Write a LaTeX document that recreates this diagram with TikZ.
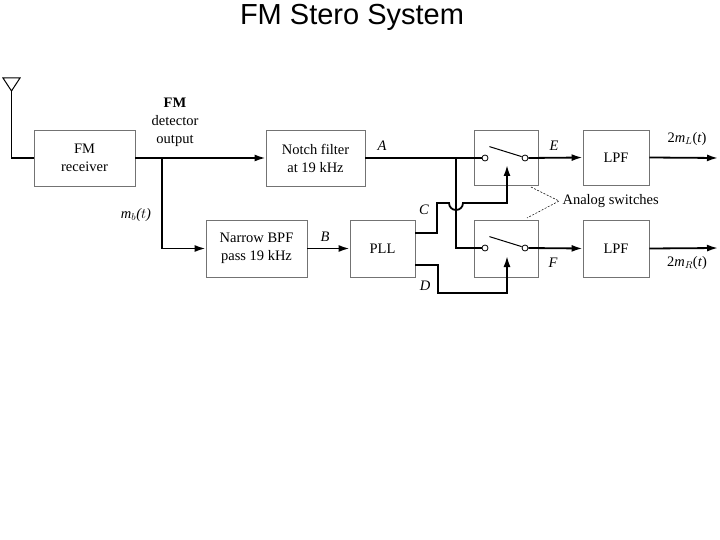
\documentclass[tikz,border=0pt]{standalone}
\usepackage{fontspec}
\setmainfont{Liberation Serif}
\newfontfamily\titlefont{Liberation Sans}
\usetikzlibrary{arrows.meta}
\begin{document}
\begin{tikzpicture}[x=1pt,y=-1pt,
 fs/.style={font=\fontsize{14.5}{18}\selectfont},
 blk/.style={draw=black!55,line width=0.9pt,fs,align=center,inner sep=0pt},
 sig/.style={line width=1.8pt},
 arr/.style={sig,-{Latex[length=11pt,width=7pt]}},
 lab/.style={font=\fontsize{14.5}{18}\selectfont\itshape},
 circ/.style={circle,draw,line width=0.8pt,fill=white,inner sep=0pt,minimum size=6pt}]
\useasboundingbox (0,0) rectangle (720,540);
\node[font=\titlefont\fontsize{29}{32}\selectfont] (title) at (352,17) {FM Stero System};
\node[blk,minimum width=101pt,minimum height=56pt] (rx) at (84.5,158) {FM\\receiver};
\node[blk,minimum width=99pt,minimum height=56pt] (notch) at (315.5,158) {Notch filter\\at 19 kHz};
\node[blk,minimum width=101pt,minimum height=57pt] (bpf) at (256.5,248.5) {Narrow BPF\\pass 19 kHz};
\node[blk,minimum width=65pt,minimum height=57pt] (pll) at (382.5,248.5) {PLL};
\node[blk,minimum width=64pt,minimum height=55pt] (sw1) at (506,157.5) {};
\node[blk,minimum width=64pt,minimum height=57pt] (sw2) at (506,248.5) {};
\node[blk,minimum width=66pt,minimum height=55pt] (lpf1) at (616,157.5) {LPF};
\node[blk,minimum width=66pt,minimum height=57pt] (lpf2) at (616,248.5) {LPF};
% antenna
\draw[line width=1pt] (3,78) -- (20,78) -- (11.5,91) -- cycle;
\coordinate (ant) at (11.5,91);
\draw[sig] (ant) |- (rx.west);
% main
\coordinate (j1) at (162,158);
\draw[arr] (rx.east) -- (notch.west);
\draw[arr] (j1) |- (bpf.west);
\draw[arr] (bpf.east) -- (pll.west);
% switches
\node[circ] (c1a) at (485,158) {};
\node[circ] (c1b) at (525,158) {};
\node[circ] (c2a) at (485,248) {};
\node[circ] (c2b) at (525,248) {};
\coordinate (j2) at (456,158);
\draw[sig] (notch.east) -- (c1a.west);
\draw[sig] (j2) |- (c2a.west);
\draw[line width=1pt] (c1a.north east) ++(2,-9) -- ([xshift=-1pt,yshift=-1pt]c1b.north west);
\draw[line width=1pt] (c2a.north east) ++(2,-9) -- ([xshift=-1pt,yshift=-1pt]c2b.north west);
\draw[arr] (c1b.east) -- (lpf1.west);
\draw[arr] (c2b.east) -- (lpf2.west);
\draw[arr] (lpf1.east) -- (718,158) coordinate (o1);
\draw[arr] (lpf2.east) -- (718,248) coordinate (o2);
% C path
\coordinate (pc) at (415,233);
\draw[sig,-{Latex[length=11pt,width=7pt]}] (pc) -- (437,233) -- (437,203) -- (449,203) arc[start angle=180,end angle=0,radius=7] -- (507,203) -- (507,165);
% D path
\draw[arr] (415,265) -- (438,265) -- (438,293) -- (507,293) -- (507,256);
% labels
\node[fs,align=center] (det) at (175,122) {\textbf{FM}\\detector\\output};
\node[lab] (mb) at (136,215) {m$_b$($t$)};
\node[lab] (la) at (382,146) {A};
\node[lab] (lb) at (325,237) {B};
\node[lab] (lc) at (424,210) {C};
\node[lab] (ld) at (425,286) {D};
\node[lab] (le) at (554,146) {E};
\node[lab] (lf) at (553,263) {F};
\node[fs] (lo1) at (687,139) {2\textit{m$_L$}(\textit{t})};
\node[fs] (lo2) at (687,263) {2\textit{m$_R$}(\textit{t})};
\node[fs,anchor=west] (as) at (559,201) {Analog switches};
\draw[line width=0.5pt,dash pattern=on 2pt off 1.5pt] (531,187) -- (as.west) -- (527,218);
\end{tikzpicture}
\end{document}
